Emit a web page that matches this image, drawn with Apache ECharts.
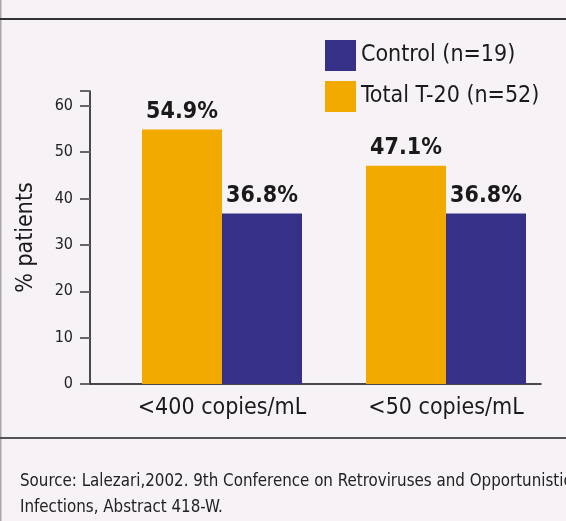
<!DOCTYPE html>
<html>
<head>
<meta charset="utf-8">
<script src="https://cdn.jsdelivr.net/npm/echarts@6/dist/echarts.min.js"></script>
<style>
    html, body {
        margin: 0;
        padding: 0;
        background: #f7f2f6;
    }
    #chart {
        width: 566px;
        height: 521px;
    }
</style>
</head>
<body>
<div id="chart"></div>
<script>
// 数据
let categories = ['<400 copies/mL', '<50 copies/mL']
let seriesNames = ['Total T-20 (n=52)', 'Control (n=19)']
let totalT20 = [54.9, 47.1]
let control = [36.8, 36.8]
let yTicks = [0, 10, 20, 30, 40, 50, 60]
let sourceLines = [
    'Source: Lalezari,2002. 9th Conference on Retroviruses and Opportunistic',
    'Infections, Abstract 418-W.'
]

const FONT = '"DejaVu Sans Condensed", "DejaVu Sans", sans-serif'
const colors = ['#f2aa00', '#373087']
const yMax = 63.2

let myChart = echarts.init(document.getElementById('chart'))

function barLabel() {
    return {
        show: true,
        position: 'top',
        distance: 6,
        formatter: p => p.value.toFixed(1) + '%',
        fontFamily: FONT,
        fontWeight: 'bold',
        fontSize: 23,
        color: '#1a1a1a'
    }
}

let option = {
    backgroundColor: '#f7f2f6',
    color: colors,
    animation: false,
    textStyle: { fontFamily: FONT },
    legend: {
        data: [seriesNames[1], seriesNames[0]],
        orient: 'vertical',
        left: 325,
        top: 40,
        padding: 0,
        itemWidth: 31,
        itemHeight: 31,
        itemGap: 10,
        icon: 'rect',
        textStyle: { fontFamily: FONT, fontSize: 23, color: '#1a1a1a' }
    },
    grid: [
        // 柱子所在的网格
        { left: 110, right: 8, top: 91, bottom: 137 },
        // 坐标轴线所在的网格
        { left: 90, right: 25, top: 91, bottom: 137 }
    ],
    xAxis: [
        {
            type: 'category',
            gridIndex: 0,
            data: categories,
            axisLine: { show: false },
            axisTick: { show: false },
            axisLabel: { fontFamily: FONT, fontSize: 23, color: '#1a1a1a', margin: 13 }
        },
        {
            type: 'value',
            gridIndex: 1,
            min: 0,
            max: 1,
            axisLine: { show: true, lineStyle: { color: '#111', width: 1.5 } },
            axisTick: { show: false },
            axisLabel: { show: false },
            splitLine: { show: false }
        }
    ],
    yAxis: [
        {
            type: 'value',
            gridIndex: 0,
            min: 0,
            max: yMax,
            show: false
        },
        {
            type: 'value',
            gridIndex: 1,
            min: 0,
            max: yMax,
            interval: 10,
            name: '% patients',
            nameLocation: 'middle',
            nameGap: 52,
            nameTextStyle: { fontFamily: FONT, fontSize: 23, color: '#1a1a1a' },
            axisLine: { show: true, lineStyle: { color: '#111', width: 1.5 } },
            axisTick: { show: true, length: 10, lineStyle: { color: '#666', width: 2 } },
            axisLabel: {
                fontFamily: FONT,
                fontSize: 16,
                color: '#222',
                margin: 17,
                formatter: v => (yTicks.includes(v) ? String(v) : '')
            },
            splitLine: { show: false }
        }
    ],
    graphic: [
        { type: 'rect', shape: { x: 0, y: 0, width: 1.5, height: 521 }, style: { fill: '#a9a6a9' } },
        { type: 'rect', shape: { x: 0, y: 18, width: 566, height: 2 }, style: { fill: '#333' } },
        { type: 'rect', shape: { x: 0, y: 437, width: 566, height: 2 }, style: { fill: '#555' } },
        {
            type: 'text',
            left: 20,
            top: 469,
            style: {
                text: sourceLines.join('\n'),
                fontFamily: FONT,
                fontSize: 16.8,
                lineHeight: 26,
                fill: '#222'
            }
        }
    ],
    series: [
        {
            name: seriesNames[0],
            type: 'bar',
            xAxisIndex: 0,
            yAxisIndex: 0,
            barWidth: 80,
            barGap: '0%',
            label: barLabel(),
            data: totalT20
        },
        {
            name: seriesNames[1],
            type: 'bar',
            xAxisIndex: 0,
            yAxisIndex: 0,
            barWidth: 80,
            barGap: '0%',
            label: barLabel(),
            data: control
        }
    ]
}
myChart.setOption(option)
</script>
</body>
</html>
